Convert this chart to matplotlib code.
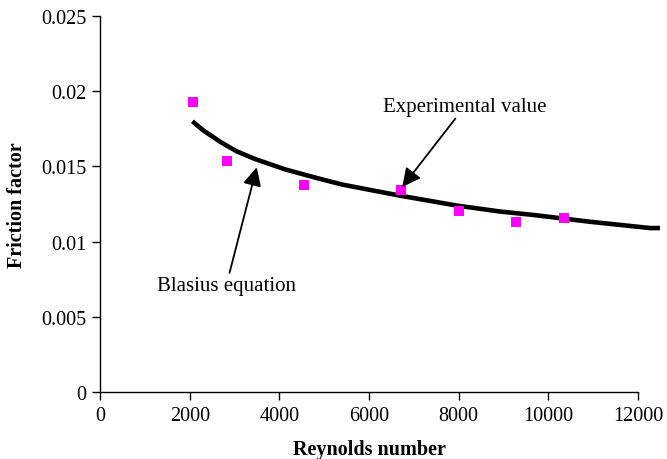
import matplotlib
matplotlib.use('Agg')
import matplotlib.pyplot as plt

# experimental points
re_exp = [2080, 2830, 4560, 6720, 8010, 9280, 10340]
f_exp = [0.0193, 0.01538, 0.01378, 0.01346, 0.01201, 0.01131, 0.01156]

# Blasius equation curve
re_bl = [2060, 2300, 2700, 3050, 3450, 4130, 4870, 5390, 6000, 6700, 7950,
         8920, 9670, 10930, 12270, 12490]
f_bl = [0.0180, 0.0174, 0.0166, 0.0160, 0.0155, 0.0148, 0.0142, 0.0138,
        0.01345, 0.01305, 0.0124, 0.0120, 0.01177, 0.01132, 0.0109, 0.0109]

x_ticks = [0, 2000, 4000, 6000, 8000, 10000, 12000]
y_ticks = [0, 0.005, 0.01, 0.015, 0.02, 0.025]
y_ticklabels = ['0', '0.005', '0.01', '0.015', '0.02', '0.025']

plt.rcParams['font.family'] = ['Liberation Serif', 'DejaVu Serif']

fig = plt.figure(figsize=(6.67, 4.6), dpi=100)
ax = fig.add_axes([0.15, 0.1457, 0.8065, 0.8173])

ax.plot(re_bl, f_bl, color='black', lw=3.3, solid_capstyle='butt', clip_on=False, zorder=2)
ax.plot(re_exp, f_exp, 's', color='#FF00FF', markersize=6.5, markeredgewidth=0, zorder=3)

ax.set_xlim(0, 12000)
ax.set_ylim(0, 0.025)
ax.set_xticks(x_ticks)
ax.set_xticklabels([str(t) for t in x_ticks])
ax.set_yticks(y_ticks)
ax.set_yticklabels(y_ticklabels)
ax.tick_params(direction='out', length=6, width=1, labelsize=14.5, colors='black', pad=4)

for side in ['top', 'right']:
    ax.spines[side].set_visible(False)
for side in ['left', 'bottom']:
    ax.spines[side].set_linewidth(1)
    ax.spines[side].set_color('black')

ax.set_xlabel('Reynolds number', fontsize=14.5, fontweight='bold', labelpad=10)
ax.set_ylabel('Friction factor', fontsize=14.5, fontweight='bold', labelpad=10)

arrow = dict(arrowstyle='-|>', color='black', lw=1.3, mutation_scale=28, shrinkA=0, shrinkB=0)
ax.annotate('Experimental value', xy=(6740, 0.01363), xytext=(8140, 0.0190),
            fontsize=15, ha='center', va='center', arrowprops=arrow)
ax.annotate('Blasius equation', xy=(3495, 0.01494), xytext=(2817, 0.0071),
            fontsize=15, ha='center', va='center', arrowprops=arrow)

fig.savefig('out.png', dpi=100)
